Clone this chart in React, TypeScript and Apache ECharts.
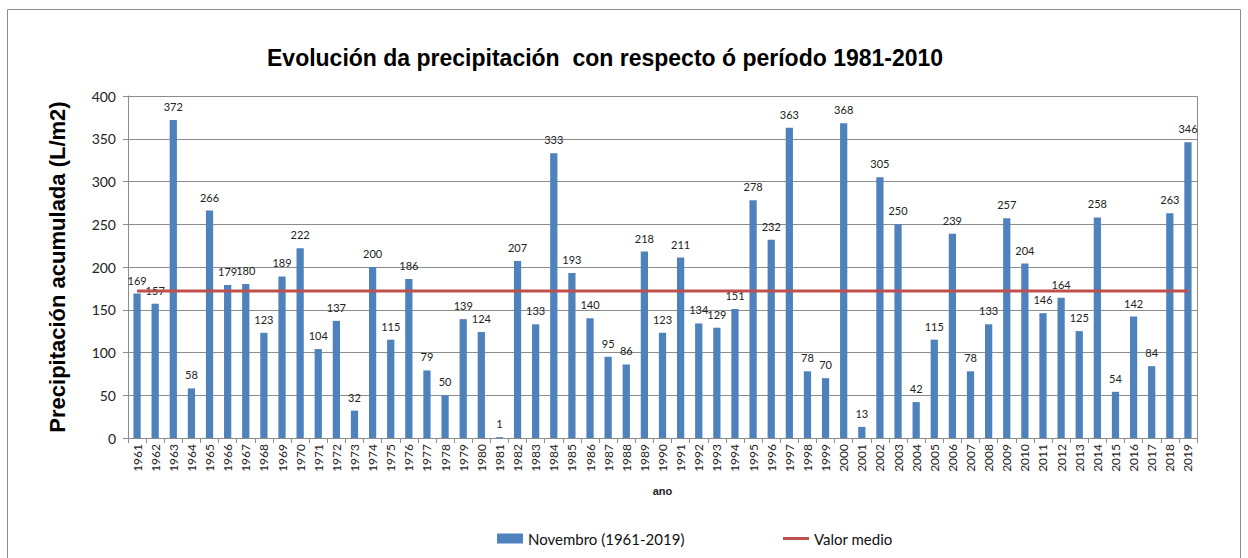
import React, { useEffect, useRef } from "react";
import * as echarts from "echarts";

const years: string[] = [
  "1961","1962","1963","1964","1965","1966","1967","1968","1969","1970",
  "1971","1972","1973","1974","1975","1976","1977","1978","1979","1980",
  "1981","1982","1983","1984","1985","1986","1987","1988","1989","1990",
  "1991","1992","1993","1994","1995","1996","1997","1998","1999","2000",
  "2001","2002","2003","2004","2005","2006","2007","2008","2009","2010",
  "2011","2012","2013","2014","2015","2016","2017","2018","2019",
];

const precipitation: number[] = [
  169, 157, 372, 58, 266, 179, 180, 123, 189, 222,
  104, 137, 32, 200, 115, 186, 79, 50, 139, 124,
  1, 207, 133, 333, 193, 140, 95, 86, 218, 123,
  211, 134, 129, 151, 278, 232, 363, 78, 70, 368,
  13, 305, 250, 42, 115, 239, 78, 133, 257, 204,
  146, 164, 125, 258, 54, 142, 84, 263, 346,
];

const meanValue = 172;
const meanLine: number[] = years.map(() => meanValue);

const barName = "Novembro (1961-2019)";
const lineName = "Valor medio";

const legendText = {
  fontFamily: "Lato, Open Sans, sans-serif",
  fontSize: 15,
  color: "#111",
};

export default function App() {
  const ref = useRef<HTMLDivElement>(null);
  useEffect(() => {
    if (!ref.current) return;
    const chart = echarts.init(ref.current, undefined, { renderer: "svg" });
    chart.setOption({
      animation: false,
      backgroundColor: "#ffffff",
      title: {
        text: "Evolución da precipitación  con respecto ó período 1981-2010",
        left: 262,
        top: 41,
        textStyle: {
          fontFamily: "Liberation Sans, Arial, sans-serif",
          fontWeight: "bold",
          fontSize: 23,
          color: "#000",
        },
      },
      graphic: [
        {
          type: "rect",
          shape: { x: 7.5, y: 9.5, width: 1233, height: 560 },
          style: { fill: "none", stroke: "#8c8c8c", lineWidth: 1 },
          silent: true,
        },
        {
          type: "rect",
          shape: { x: 128.5, y: 96.5, width: 1069, height: 342 },
          style: { fill: "none", stroke: "#8c8c8c", lineWidth: 1 },
          silent: true,
          z: 0,
        },
      ],
      legend: [
        {
          left: 492,
          top: 526,
          itemWidth: 26,
          itemHeight: 10,
          itemGap: 4,
          textStyle: legendText,
          data: [{ name: barName, icon: "rect" }],
        },
        {
          left: 778,
          top: 526,
          itemWidth: 26,
          itemHeight: 3,
          itemGap: 4,
          textStyle: legendText,
          data: [{ name: lineName, icon: "rect" }],
        },
      ],
      grid: { left: 128, right: 51, top: 96, bottom: 120, containLabel: false },
      xAxis: {
        type: "category",
        data: years,
        boundaryGap: true,
        name: "ano",
        nameLocation: "middle",
        nameGap: 47,
        nameTextStyle: {
          fontFamily: "Liberation Sans, Arial, sans-serif",
          fontWeight: "bold",
          fontSize: 11,
          color: "#222",
        },
        axisLine: { lineStyle: { color: "#8c8c8c" } },
        axisTick: { show: true, alignWithLabel: false, length: 5, interval: 0, lineStyle: { color: "#8c8c8c" } },
        axisLabel: {
          interval: 0,
          rotate: 90,
          margin: 6,
          fontFamily: "Lato, Open Sans, sans-serif",
          fontSize: 12,
          color: "#222",
        },
      },
      yAxis: {
        type: "value",
        min: 0,
        max: 400,
        interval: 50,
        name: "Precipitación acumulada (L/m2)",
        nameLocation: "middle",
        nameGap: 60,
        nameTextStyle: {
          fontFamily: "Liberation Sans, Arial, sans-serif",
          fontWeight: "bold",
          fontSize: 22,
          color: "#000",
        },
        axisLine: { show: true, lineStyle: { color: "#8c8c8c" } },
        axisTick: { show: true, length: 5, lineStyle: { color: "#8c8c8c" } },
        axisLabel: {
          margin: 12,
          fontFamily: "Lato, Open Sans, sans-serif",
          fontSize: 14,
          color: "#222",
        },
        splitLine: { lineStyle: { color: "#8c8c8c", width: 1 } },
      },
      series: [
        {
          name: barName,
          type: "bar",
          data: precipitation,
          barWidth: "40%",
          itemStyle: { color: "#4F81BD" },
          label: {
            show: true,
            position: "top",
            distance: 8,
            fontFamily: "Lato, Open Sans, sans-serif",
            fontSize: 11,
            color: "#222",
          },
          z: 2,
        },
        {
          name: lineName,
          type: "line",
          data: meanLine,
          symbol: "none",
          showSymbol: false,
          lineStyle: { color: "#C0504D", width: 3 },
          itemStyle: { color: "#C0504D" },
          z: 3,
        },
      ],
    });
    return () => chart.dispose();
  }, []);
  return (
    <div
      ref={ref}
      style={{ position: "fixed", left: 0, top: 0, width: 1248, height: 558 }}
    />
  );
}
